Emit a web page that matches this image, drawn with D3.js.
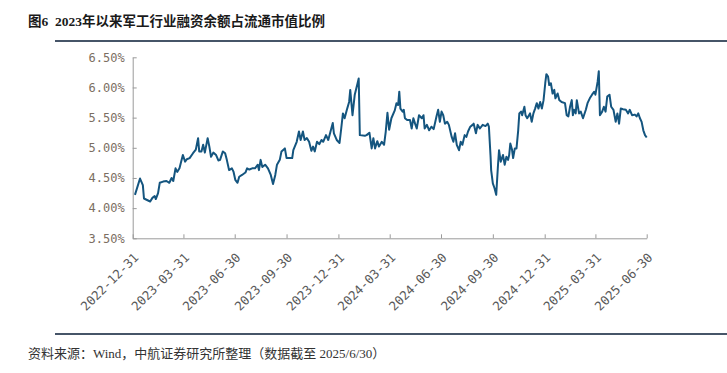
<!DOCTYPE html>
<html>
<head>
<meta charset="utf-8">
<script src="https://cdn.jsdelivr.net/npm/d3@7"></script>
<style>
  body { margin: 0; background: #fff; }
</style>
</head>
<body>
<div id="chart"></div>
<script>
// Data: date and financing balance / float market cap (%)
var dates = [
  '2023-01-04','2023-01-13','2023-01-18','2023-01-20','2023-01-31','2023-02-04','2023-02-08','2023-02-10',
  '2023-02-14','2023-02-17','2023-02-23','2023-03-01','2023-03-06','2023-03-10','2023-03-13','2023-03-17',
  '2023-03-20','2023-03-24','2023-03-30','2023-04-03','2023-04-06','2023-04-11','2023-04-17','2023-04-22',
  '2023-04-26','2023-04-28','2023-05-02','2023-05-05','2023-05-08','2023-05-13','2023-05-16','2023-05-19',
  '2023-05-23','2023-05-28','2023-06-01','2023-06-04','2023-06-09','2023-06-13','2023-06-16','2023-06-20',
  '2023-06-25','2023-06-28','2023-07-01','2023-07-05','2023-07-08','2023-07-13','2023-07-19','2023-07-22',
  '2023-07-26','2023-07-31','2023-08-05','2023-08-10','2023-08-12','2023-08-15','2023-08-18','2023-08-23',
  '2023-08-28','2023-09-02','2023-09-06','2023-09-10','2023-09-13','2023-09-18','2023-09-21','2023-09-27',
  '2023-09-30','2023-10-06','2023-10-10','2023-10-12','2023-10-18','2023-10-22','2023-10-25','2023-10-29',
  '2023-11-01','2023-11-05','2023-11-09','2023-11-13','2023-11-16','2023-11-19','2023-11-23','2023-11-27',
  '2023-12-01','2023-12-04','2023-12-09','2023-12-13','2023-12-17','2023-12-21','2023-12-23','2023-12-28',
  '2024-01-02','2024-01-05','2024-01-08','2024-01-11','2024-01-15','2024-01-19','2024-01-21','2024-01-25',
  '2024-01-29','2024-02-03','2024-02-05','2024-02-07','2024-02-16','2024-02-19','2024-02-24','2024-02-28',
  '2024-03-02','2024-03-05','2024-03-09','2024-03-12','2024-03-17','2024-03-21','2024-03-24','2024-03-27',
  '2024-03-30','2024-04-03','2024-04-09','2024-04-12','2024-04-15','2024-04-17','2024-04-19','2024-04-23',
  '2024-04-25','2024-04-27','2024-05-01','2024-05-06','2024-05-09','2024-05-12','2024-05-15','2024-05-18',
  '2024-05-22','2024-05-27','2024-05-30','2024-06-01','2024-06-05','2024-06-09','2024-06-13','2024-06-17',
  '2024-06-22','2024-06-25','2024-06-28','2024-07-01','2024-07-04','2024-07-07','2024-07-11','2024-07-14',
  '2024-07-19','2024-07-22','2024-07-25','2024-07-28','2024-08-01','2024-08-04','2024-08-07','2024-08-11',
  '2024-08-14','2024-08-17','2024-08-21','2024-08-25','2024-08-27','2024-08-31','2024-09-03','2024-09-07',
  '2024-09-12','2024-09-17','2024-09-21','2024-09-23','2024-09-26','2024-09-27','2024-09-30','2024-10-03',
  '2024-10-06','2024-10-09','2024-10-11','2024-10-14','2024-10-18','2024-10-21','2024-10-24','2024-10-27',
  '2024-10-29','2024-10-31','2024-11-03','2024-11-05','2024-11-08','2024-11-11','2024-11-14','2024-11-16',
  '2024-11-19','2024-11-21','2024-11-25','2024-11-27','2024-11-30','2024-12-05','2024-12-08','2024-12-11',
  '2024-12-14','2024-12-17','2024-12-20','2024-12-23','2024-12-26','2024-12-29','2025-01-01','2025-01-03',
  '2025-01-06','2025-01-08','2025-01-11','2025-01-14','2025-01-17','2025-01-19','2025-01-23','2025-01-26',
  '2025-01-30','2025-02-05','2025-02-08','2025-02-11','2025-02-14','2025-02-17','2025-02-19','2025-02-21',
  '2025-02-24','2025-02-26','2025-03-02','2025-03-05','2025-03-09','2025-03-14','2025-03-17','2025-03-21',
  '2025-03-25','2025-03-29','2025-03-31','2025-04-04','2025-04-06','2025-04-08','2025-04-12','2025-04-15',
  '2025-04-18','2025-04-21','2025-04-25','2025-04-28','2025-05-02','2025-05-06','2025-05-09','2025-05-12',
  '2025-05-15','2025-05-19','2025-05-24','2025-05-28','2025-05-31','2025-06-04','2025-06-09','2025-06-12',
  '2025-06-15','2025-06-18','2025-06-21','2025-06-24','2025-06-27','2025-06-30'
];

var ratios = [
  4.22,4.49,4.38,4.16,4.11,4.17,4.20,4.15,
  4.25,4.42,4.44,4.45,4.42,4.50,4.45,4.66,
  4.60,4.66,4.88,4.77,4.81,4.83,4.91,4.97,
  5.16,4.94,4.94,5.05,4.92,5.16,5.02,4.85,
  4.92,4.88,4.79,4.80,4.94,4.91,4.80,4.63,
  4.66,4.60,4.47,4.42,4.52,4.55,4.59,4.66,
  4.64,4.66,4.66,4.72,4.63,4.80,4.68,4.72,
  4.66,4.55,4.40,4.55,4.72,4.80,4.94,4.99,
  4.83,4.83,4.83,4.96,5.10,5.27,5.13,5.27,
  5.13,5.16,5.10,4.95,5.02,4.94,5.10,5.06,
  5.13,5.10,5.21,5.13,5.27,5.41,5.24,5.13,
  5.08,5.32,5.57,5.49,5.63,5.76,5.96,5.54,
  5.88,6.07,6.15,5.21,5.20,5.21,5.25,4.99,
  5.16,4.99,5.11,5.02,5.10,5.05,5.27,5.58,
  5.30,5.49,5.62,5.74,5.71,5.93,5.65,5.60,
  5.63,5.49,5.46,5.46,5.32,5.49,5.40,5.32,
  5.54,5.49,5.54,5.32,5.38,5.29,5.35,5.31,
  5.52,5.63,5.43,5.60,5.54,5.40,5.43,5.38,
  5.18,5.10,5.24,5.05,4.96,5.10,5.05,5.21,
  5.18,5.27,5.35,5.38,5.40,5.24,5.38,5.32,
  5.38,5.36,5.40,5.35,4.85,4.63,4.41,4.33,
  4.22,4.69,4.96,4.77,4.88,4.72,4.85,4.80,
  4.88,5.07,4.97,4.83,4.99,4.99,5.29,5.57,
  5.60,5.54,5.68,5.54,5.49,5.57,5.43,5.57,
  5.65,5.74,5.65,5.76,5.65,5.79,6.07,6.22,
  6.18,6.04,6.07,5.90,5.96,5.82,5.90,5.79,
  5.76,5.74,5.54,5.52,5.68,5.79,5.54,5.63,
  5.57,5.79,5.57,5.60,5.49,5.63,5.74,5.82,
  5.88,5.93,5.88,6.10,6.27,5.54,5.60,5.68,
  5.60,5.85,5.88,5.68,5.63,5.43,5.57,5.40,
  5.65,5.64,5.63,5.57,5.63,5.54,5.55,5.52,
  5.57,5.49,5.43,5.29,5.21,5.17
];

// Axis ticks
var xTickDates = [
  '2022-12-31','2023-03-31','2023-06-30','2023-09-30','2023-12-31','2024-03-31',
  '2024-06-30','2024-09-30','2024-12-31','2025-03-31','2025-06-30'
];
var yTicks = [3.5, 4.0, 4.5, 5.0, 5.5, 6.0, 6.5];

var titleText = '图6\u00a0\u00a02023年以来军工行业融资余额占流通市值比例';
var sourceText = '资料来源：Wind，中航证券研究所整理（数据截至\u00a02025/6/30）';

var width = 727;
var height = 373;

var parseDate = d3.timeParse('%Y-%m-%d');
var data = dates.map(function(d, i) {
  return { date: parseDate(d), value: ratios[i] };
});

var svg = d3.select('#chart')
  .append('svg')
  .attr('width', width)
  .attr('height', height)
  .style('font-family', '"Noto Sans CJK SC", sans-serif');

svg.append('rect')
  .attr('width', width)
  .attr('height', height)
  .attr('fill', '#fff');

// Title and rules
svg.append('text')
  .attr('x', 28)
  .attr('y', 26)
  .attr('font-size', 13.5)
  .attr('font-weight', 'bold')
  .attr('fill', '#1a1a1a')
  .style('font-family', '"Liberation Serif", "Noto Sans CJK SC", serif')
  .text(titleText);

svg.append('line')
  .attr('x1', 55).attr('x2', width)
  .attr('y1', 41).attr('y2', 41)
  .attr('stroke', '#465568')
  .attr('stroke-width', 2);

svg.append('line')
  .attr('x1', 55).attr('x2', width)
  .attr('y1', 334).attr('y2', 334)
  .attr('stroke', '#465568')
  .attr('stroke-width', 2);

svg.append('text')
  .attr('x', 28)
  .attr('y', 358)
  .attr('font-size', 13)
  .attr('fill', '#333')
  .style('font-family', '"Liberation Serif", "Noto Sans CJK SC", serif')
  .text(sourceText);

// Scales
var x = d3.scaleTime()
  .domain([parseDate(xTickDates[0]), parseDate(xTickDates[xTickDates.length - 1])])
  .range([132.7, 646.7]);

var y = d3.scaleLinear()
  .domain([3.5, 6.5])
  .range([238.3, 57.3]);

// Y axis (ticks point inward)
var yAxis = svg.append('g')
  .attr('transform', 'translate(132.7,0)')
  .call(d3.axisLeft(y)
    .tickValues(yTicks)
    .tickSize(-4)
    .tickSizeOuter(0)
    .tickPadding(8)
    .tickFormat(function(d) { return d3.format('.2f')(d) + '%'; }));

yAxis.selectAll('path, line').attr('stroke', '#9a9a9a');
yAxis.selectAll('text')
  .attr('fill', '#7b6e62')
  .attr('font-size', 12)
  .style('font-family', '"DejaVu Sans Mono", monospace');

// X axis
var xAxis = svg.append('g')
  .attr('transform', 'translate(0,238.3)')
  .call(d3.axisBottom(x)
    .tickValues(xTickDates.map(parseDate))
    .tickSize(-4)
    .tickSizeOuter(0)
    .tickFormat(d3.timeFormat('%Y-%m-%d')));

xAxis.selectAll('path, line').attr('stroke', '#9a9a9a');
xAxis.selectAll('text')
  .attr('x', 0)
  .attr('y', 0)
  .attr('dy', '0.35em')
  .attr('text-anchor', 'end')
  .attr('transform', 'translate(3,17) rotate(-45)')
  .attr('fill', '#595959')
  .attr('font-size', 12.5)
  .style('font-family', '"DejaVu Sans Mono", monospace');

// The line
var line = d3.line()
  .x(function(d) { return x(d.date); })
  .y(function(d) { return y(d.value); });

svg.append('path')
  .datum(data)
  .attr('d', line)
  .attr('fill', 'none')
  .attr('stroke', '#14557f')
  .attr('stroke-width', 2)
  .attr('stroke-linejoin', 'round');
</script>
</body>
</html>
